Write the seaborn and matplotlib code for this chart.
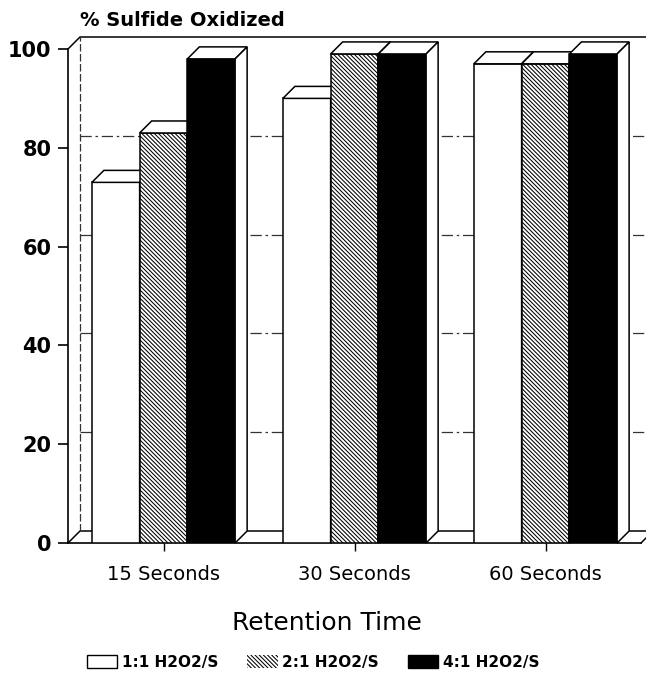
import matplotlib
matplotlib.use("Agg")
import matplotlib.pyplot as plt
import seaborn as sns
import pandas as pd
from matplotlib.patches import Polygon, Patch

# Data
times = ["15 Seconds", "30 Seconds", "60 Seconds"]
ratios = ["1:1 H2O2/S", "2:1 H2O2/S", "4:1 H2O2/S"]
oxidized_1to1 = [73, 90, 97]
oxidized_2to1 = [83, 99, 97]
oxidized_4to1 = [98, 99, 99]
y_ticks = [0, 20, 40, 60, 80, 100]

HATCH = "\\" * 8

sns.set_theme(style="white")
plt.rcParams["font.family"] = ["DejaVu Sans"]
plt.rcParams["text.color"] = "black"
plt.rcParams["hatch.linewidth"] = 0.75

df = pd.DataFrame({
    "time": times * 3,
    "ratio": [r for r in ratios for _ in times],
    "value": oxidized_1to1 + oxidized_2to1 + oxidized_4to1,
})

W, H = 646, 688
fig = plt.figure(figsize=(W / 100, H / 100), dpi=100)
ax = fig.add_axes([68 / W, 1 - 543 / H, 573 / W, 494 / H])

sns.barplot(data=df, x="time", y="value", hue="ratio", order=times,
            hue_order=ratios, palette=["white", "white", "black"],
            saturation=1, width=0.75, edgecolor="black", linewidth=1.1,
            errorbar=None, legend=False, ax=ax)

for bar in ax.containers[1]:
    bar.set_hatch(HATCH)

ax.set_xlim(-0.5, 2.5)
ax.set_ylim(0, 100)

# depth of the pseudo-3D extrusion, in data units (12 px up and right)
inv = ax.transData.inverted()
ox, oy = inv.transform((0, 0))
ex, ey = inv.transform((12, 12))
dx, dy = ex - ox, ey - oy

# back wall, left wall and floor
xl, xr = -0.5, 2.5
wall = dict(color="black", lw=1.1, zorder=1, clip_on=False)
ax.plot([xl, xl + dx, xr + dx], [100, 100 + dy, 100 + dy], **wall)
ax.plot([xl, xl + dx, xr + dx], [0, dy, dy], **wall)
ax.plot([xr, xr + dx], [0, dy], **wall)
ax.plot([xl + dx, xl + dx], [dy, 100 + dy], color="0.2", lw=0.9,
        ls=(0, (6, 2)), zorder=1, clip_on=False)
for v in y_ticks[1:-1]:
    ax.plot([xl + dx, xr + dx], [v + dy, v + dy], color="0.2", lw=0.9,
            ls=(0, (9, 3, 2, 3)), zorder=1, clip_on=False)

# extrude the bars, painting from left to right
bars = sorted(ax.patches, key=lambda p: p.get_x())
for k, bar in enumerate(bars):
    z = 3 + 2 * k
    bar.set_zorder(z)
    x0 = bar.get_x()
    x1 = x0 + bar.get_width()
    h = bar.get_height()
    top = Polygon([(x0, h), (x1, h), (x1 + dx, h + dy), (x0 + dx, h + dy)],
                  closed=True, fc="white", ec="black", lw=1.1, zorder=z + 1,
                  clip_on=False)
    side = Polygon([(x1, 0), (x1 + dx, dy), (x1 + dx, h + dy), (x1, h)],
                   closed=True, fc="white", ec="black", lw=1.1, zorder=z + 1,
                   clip_on=False)
    ax.add_patch(top)
    ax.add_patch(side)

# axes styling
for s in ["top", "right"]:
    ax.spines[s].set_visible(False)
for s in ["left", "bottom"]:
    ax.spines[s].set_color("black")
    ax.spines[s].set_linewidth(1.2)
    ax.spines[s].set_zorder(2)

ax.set_yticks(y_ticks)
ax.tick_params(axis="y", left=True, length=7, width=1.2, pad=5,
               labelsize=15, colors="black")
for t in ax.get_yticklabels():
    t.set_fontweight("bold")
ax.tick_params(axis="x", bottom=True, length=6, width=1, pad=10,
               labelsize=14, colors="black")
ax.set_xlabel("")
ax.set_ylabel("")

fig.text(80 / W, 1 - 26 / H, "% Sulfide Oxidized", fontsize=14,
         fontweight="bold", ha="left", va="baseline", color="black")
fig.text(327 / W, 1 - 630 / H, "Retention Time", fontsize=18,
         ha="center", va="baseline", color="black")

handles = [Patch(fc="white", ec="black", lw=1),
           Patch(fc="white", ec="black", hatch=HATCH, lw=0),
           Patch(fc="black", ec="black", lw=1)]
fig.legend(handles=handles, labels=ratios, ncol=3, loc="center",
           bbox_to_anchor=(313 / W, 1 - 662 / H), frameon=False,
           prop={"weight": "bold", "size": 11}, handlelength=2.0,
           handleheight=0.9, handletextpad=0.3, columnspacing=1.9,
           labelcolor="black")

fig.savefig("out.png", dpi=100)
